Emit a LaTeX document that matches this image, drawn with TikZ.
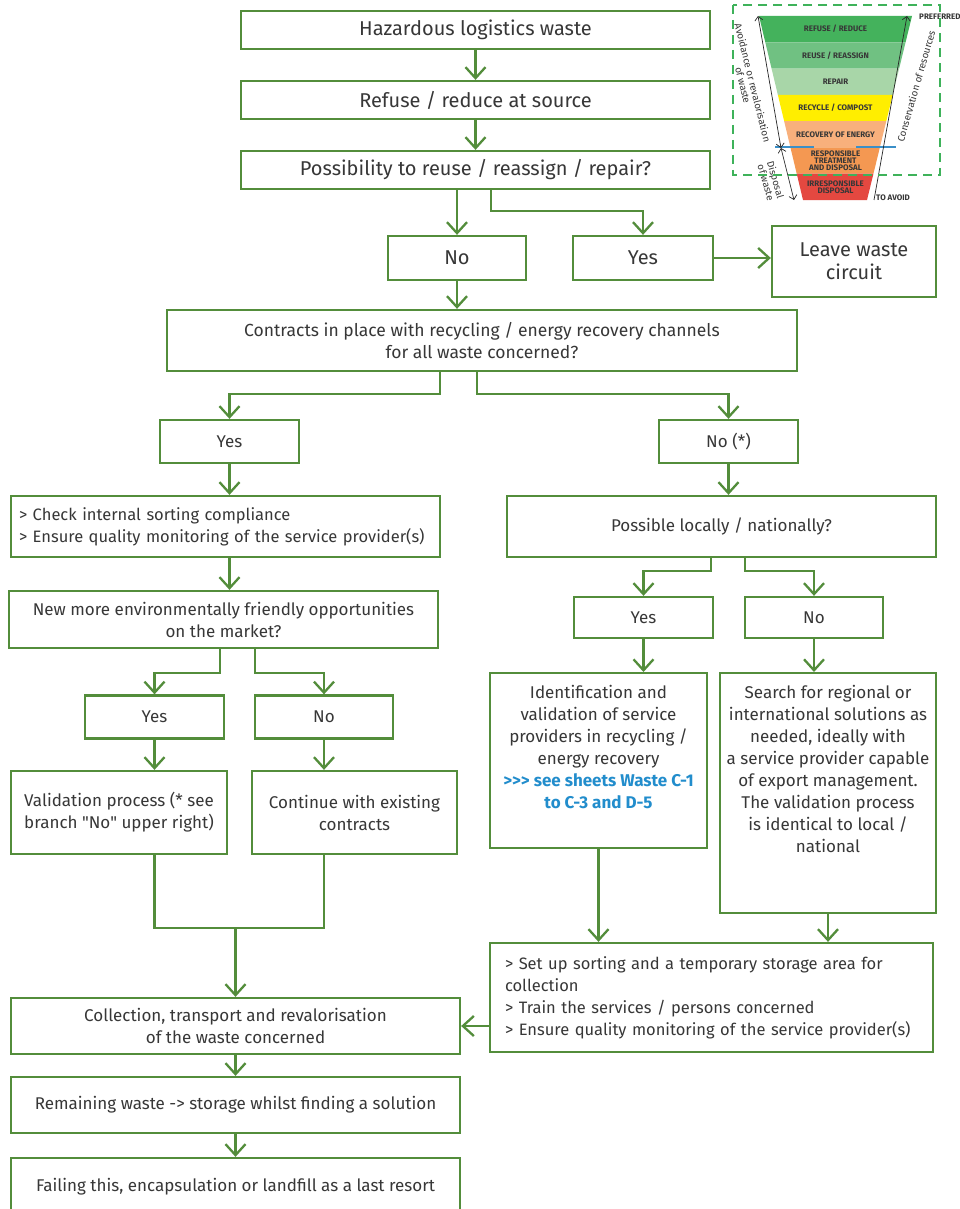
\documentclass[tikz,border=0pt]{standalone}
\usepackage{fontspec}
\setmainfont{Fira Sans}[Ligatures=TeXOff]
\usepackage{tikz}
\usetikzlibrary{arrows.meta,calc,positioning}

\definecolor{flowgreen}{RGB}{83,141,59}
\definecolor{textgray}{RGB}{55,55,55}
\definecolor{linkblue}{RGB}{34,141,204}
\definecolor{dashgreen}{RGB}{62,178,90}
\definecolor{lvlA}{RGB}{68,178,92}
\definecolor{lvlB}{RGB}{112,193,130}
\definecolor{lvlC}{RGB}{168,214,168}
\definecolor{lvlD}{RGB}{255,238,0}
\definecolor{lvlE}{RGB}{248,176,124}
\definecolor{lvlF}{RGB}{244,152,82}
\definecolor{lvlG}{RGB}{228,72,64}
\definecolor{sepblue}{RGB}{58,143,200}

\begin{document}
\begin{tikzpicture}[x=1pt, y=-1pt,
  box/.style={draw=flowgreen, line width=2.3pt, fill=white, text=textgray,
    align=center, inner sep=4pt, font=\fontsize{17}{22}\selectfont},
  bigbox/.style={box, font=\fontsize{20}{23}\selectfont},
  listbox/.style={box, align=left, font=\fontsize{16.5}{22}\selectfont},
  arr/.style={draw=flowgreen, line width=2.3pt, -{Straight Barb[length=11pt,width=20pt]}},
  link/.style={draw=flowgreen, line width=2.3pt},
  lvltext/.style={font=\fontsize{8}{7.2}\selectfont\bfseries, text=textgray, align=center, inner sep=1pt},
  sidetext/.style={font=\fontsize{9.8}{10}\selectfont, text=textgray, align=center, inner sep=1pt},
  sideline/.style={line width=0.7pt, draw=black!85},
  sidetip/.tip={Straight Barb[length=4pt,width=8pt]}
]
\path[use as bounding box, fill=white] (0,0) rectangle (960,1209);

% top column
\node[bigbox, minimum width=469pt, minimum height=38pt] (haz) at (475.5,30) {Hazardous logistics waste};
\node[bigbox, minimum width=469pt, minimum height=38pt] (refuse) at (475.5,100) {Refuse / reduce at source};
\node[bigbox, minimum width=469pt, minimum height=38pt] (reuse) at (475.5,170) {Possibility to reuse / reassign / repair?};
\node[bigbox, minimum width=138pt, minimum height=44pt] (no1) at (457,258) {No};
\node[bigbox, minimum width=140pt, minimum height=44pt] (yes1) at (643,258) {Yes};
\node[bigbox, minimum width=164pt, minimum height=71pt] (leave) at (854,261.5) {Leave waste\\circuit};
\node[box, font=\fontsize{17.5}{22}\selectfont, minimum width=630pt, minimum height=61pt] (contracts) at (482,340.5)
  {Contracts in place with recycling / energy recovery channels\\for all waste concerned?};

% left branch
\node[box, minimum width=139pt, minimum height=43pt] (yes2) at (229.5,441.5) {Yes};
\node[listbox, text width=413pt, inner xsep=8pt, minimum height=61pt] (check) at (225.5,526.5)
  {> Check internal sorting compliance\\> Ensure quality monitoring of the service provider(s)};
\node[box, minimum width=429pt, minimum height=57pt] (market) at (223.5,619.5)
  {New more environmentally friendly opportunities\\on the market?};
\node[box, minimum width=139pt, minimum height=43pt] (yes4) at (154.5,717) {Yes};
\node[box, minimum width=138pt, minimum height=43pt] (no4) at (324,717) {No};
\node[box, minimum width=216pt, minimum height=83pt] (validation) at (119,812.5)
  {Validation process (* see\\branch "No" upper right)};
\node[box, minimum width=205pt, minimum height=83pt] (existing) at (354.5,812.5)
  {Continue with existing\\contracts};

% right branch
\node[box, minimum width=139pt, minimum height=43pt] (no2) at (728.5,441.5) {No (*)};
\node[box, minimum width=429pt, minimum height=61pt] (local) at (721.5,526.5) {Possible locally / nationally?};
\node[box, minimum width=139pt, minimum height=41pt] (yes3) at (643.5,617.5) {Yes};
\node[box, minimum width=138pt, minimum height=41pt] (no3) at (814,617.5) {No};
\node[box, anchor=north, minimum width=217pt, text height=131pt, text depth=36pt] (ident) at (598.5,672)
  {Identification and\\validation of service\\providers in recycling /\\energy recovery\\
   \textcolor{linkblue}{\bfseries >>> see sheets Waste C-1}\\\textcolor{linkblue}{\bfseries to C-3 and D-5}};
\node[box, anchor=north, minimum width=216pt, text height=175pt, text depth=57pt] (search) at (828,672)
  {Search for regional or\\international solutions as\\needed, ideally with\\a service provider capable\\
   of export management.\\The validation process\\is identical to local /\\national};
\node[listbox, text width=413pt, inner xsep=15pt, minimum height=109pt] (setup) at (711.5,997.5)
  {> Set up sorting and a temporary storage area for\\collection\\> Train the services / persons concerned\\
   > Ensure quality monitoring of the service provider(s)};

% bottom column
\node[box, minimum width=449pt, minimum height=56pt] (collect) at (235.5,1026)
  {Collection, transport and revalorisation\\of the waste concerned};
\node[box, minimum width=449pt, minimum height=56pt] (remain) at (235.5,1105)
  {Remaining waste -> storage whilst finding a solution};
\node[box, minimum width=449pt, minimum height=58pt] (fail) at (235.5,1187)
  {Failing this, encapsulation or landfill as a last resort};

% connectors
\draw[arr] (haz) -- (refuse);
\draw[arr] (refuse) -- (reuse);
\draw[arr] (reuse.south -| no1) -- (no1.north);
\draw[arr] ([xshift=15.5pt]reuse.south) -- ++(0,21) -| (yes1.north);
\draw[arr] (yes1.east) -- (yes1.east -| leave.west);
\draw[arr] (no1.south) -- (no1.south |- contracts.north);
\draw[arr] ([xshift=-42pt]contracts.south) -- ++(0,22) -| (yes2.north);
\draw[arr] ([xshift=-5pt]contracts.south) -- ++(0,22) -| (no2.north);
\draw[arr] (yes2.south) -- (yes2.south |- check.north);
\draw[arr] (check.south -| yes2) -- (market.north -| yes2);
\draw[arr] ([xshift=-3.5pt]market.south) -- ++(0,24) -| (yes4.north);
\draw[arr] ([xshift=31.5pt]market.south) -- ++(0,24) -| (no4.north);
\draw[arr] (yes4.south) -- (yes4.south |- validation.north);
\draw[arr] (no4.south) -- (no4.south |- existing.north);
\coordinate (merge) at (collect.north |- 0,928);
\draw[link] (validation.south -| yes4) |- (merge) -| (existing.south -| no4);
\draw[arr] (merge) -- (collect.north);
\draw[arr] (no2) -- (no2 |- local.north);
\draw[arr] ([xshift=-10.5pt]local.south) -- ++(0,13) -| (yes3.north);
\draw[arr] ([xshift=23.5pt]local.south) -- ++(0,13) -| (no3.north);
\draw[arr] (yes3.south) -- (yes3.south |- ident.north);
\draw[arr] (no3.south) -- (no3.south |- search.north);
\draw[arr] (ident.south) -- (ident.south |- setup.north);
\draw[arr] (search.south) -- (search.south |- setup.north);
\draw[arr] (setup.west |- collect.east) -- (collect.east);
\draw[arr] (collect) -- (remain);
\draw[arr] (remain) -- (fail);

% waste hierarchy
\coordinate (plt) at (759,16);
\coordinate (plb) at (803,200);
\coordinate (prt) at (912,16);
\coordinate (prb) at (867,200);
\foreach \i/\c/\t in {0/lvlA/{REFUSE / REDUCE}, 1/lvlB/{REUSE / REASSIGN}, 2/lvlC/{REPAIR},
    3/lvlD/{RECYCLE / COMPOST}, 4/lvlE/{RECOVERY OF ENERGY},
    5/lvlF/{RESPONSIBLE\\TREATMENT\\AND DISPOSAL}, 6/lvlG/{IRRESPONSIBLE\\DISPOSAL}} {
  \pgfmathsetmacro\a{\i/7}
  \pgfmathsetmacro\b{(\i+1)/7}
  \pgfmathsetmacro\ym{16+184*(\i+0.5)/7}
  \fill[\c] ($(plt)!\a!(plb)$) -- ($(prt)!\a!(prb)$) -- ($(prt)!\b!(prb)$) -- ($(plt)!\b!(plb)$) -- cycle;
  \node[lvltext] (lvl\i) at (835.5,\ym) {\t};
}
\draw[sepblue, line width=1.5pt] (775,147) -- (814,147);
\draw[sepblue, line width=1.5pt] (856,147) -- (896,147);

\coordinate (avtop) at (758,16);
\coordinate (avbot) at (781,148);
\coordinate (dibot) at (794,200);
\coordinate (cotop) at (907,16);
\coordinate (cobot) at (874,200);
\draw[sideline, sidetip-sidetip] (avtop) -- (avbot);
\draw[sideline, sidetip-sidetip] (avbot) -- (dibot);
\draw[sideline, -sidetip] (cobot) -- (cotop);
\node[sidetext, rotate=-76] (avlabel) at (748,84) {Avoidance or revalorisation\\of waste};
\node[sidetext, rotate=-74] (dilabel) at (771,181) {Disposal\\of waste};
\node[sidetext, rotate=74] (colabel) at (916,86) {Conservation of resources};
\node[lvltext, anchor=west] (preferred) at (918,17) {PREFERRED};
\node[lvltext, anchor=west] (toavoid) at (875,198) {TO AVOID};

\draw[dashgreen, line width=2.6pt, dash pattern=on 9pt off 6pt] (733,5) rectangle (940,175);
\end{tikzpicture}
\end{document}
